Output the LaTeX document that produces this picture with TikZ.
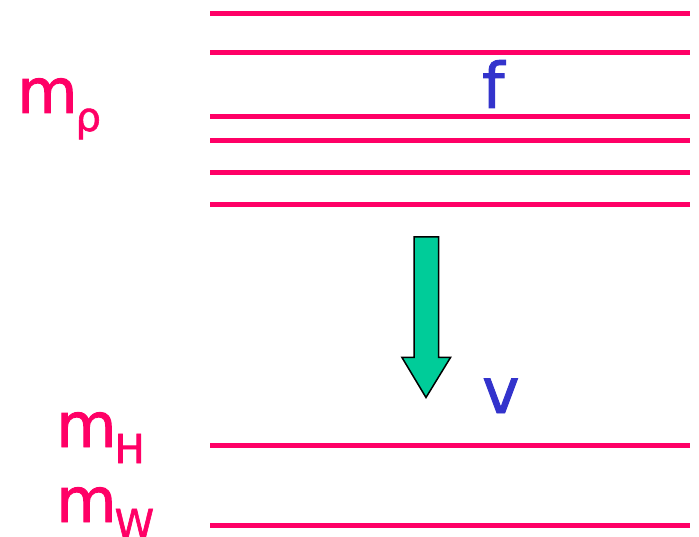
\documentclass[tikz,border=0pt]{standalone}
\usepackage{fontspec}
\setmainfont{DejaVu Sans}[RawFeature={embolden=1.5}]
\usepackage{xcolor}
\usetikzlibrary{positioning}
\definecolor{levelcolor}{HTML}{FF0066}
\definecolor{scalecolor}{HTML}{3333CC}
\definecolor{flowcolor}{HTML}{00CC99}

\tikzset{
  level/.style={levelcolor, line width=5pt},
  masslabel/.style={anchor=base west, inner sep=0pt, text=levelcolor, font=\fontsize{62}{62}\selectfont},
  scalelabel/.style={anchor=base west, inner sep=0pt, text=scalecolor, font=\fontsize{63}{63}\selectfont}
}

\begin{document}
\begin{tikzpicture}[x=1pt,y=-1pt]
\useasboundingbox (0,0) rectangle (699,537);
% spectrum of levels
\foreach \y in {13.5,53,117,141,173,205,445,525}
  \draw[level] (210,\y) -- (690,\y);
% mass labels
\node[masslabel] (mrho) at (17,113) {m\kern-2pt\raisebox{-18pt}{\fontsize{40}{40}\selectfont ρ}};
\node[masslabel] (mH) at (56,447) {m\kern-2pt\raisebox{-16pt}{\fontsize{40}{40}\selectfont H}};
\node[masslabel] (mW) at (56,522) {m\kern-2pt\raisebox{-16pt}{\fontsize{40}{40}\selectfont W}};
% scales
\node[scalelabel] (f) at (482,108) {f};
\node[scalelabel] (v) at (482,413) {v};
% downward arrow
\filldraw[fill=flowcolor, draw=black, line width=1.5pt, line join=miter]
  (414,237) -- (438.5,237) -- (438.5,357.5) -- (450.5,357.5) -- (426,397.5)
  -- (402,357.5) -- (414,357.5) -- cycle;
\end{tikzpicture}
\end{document}
